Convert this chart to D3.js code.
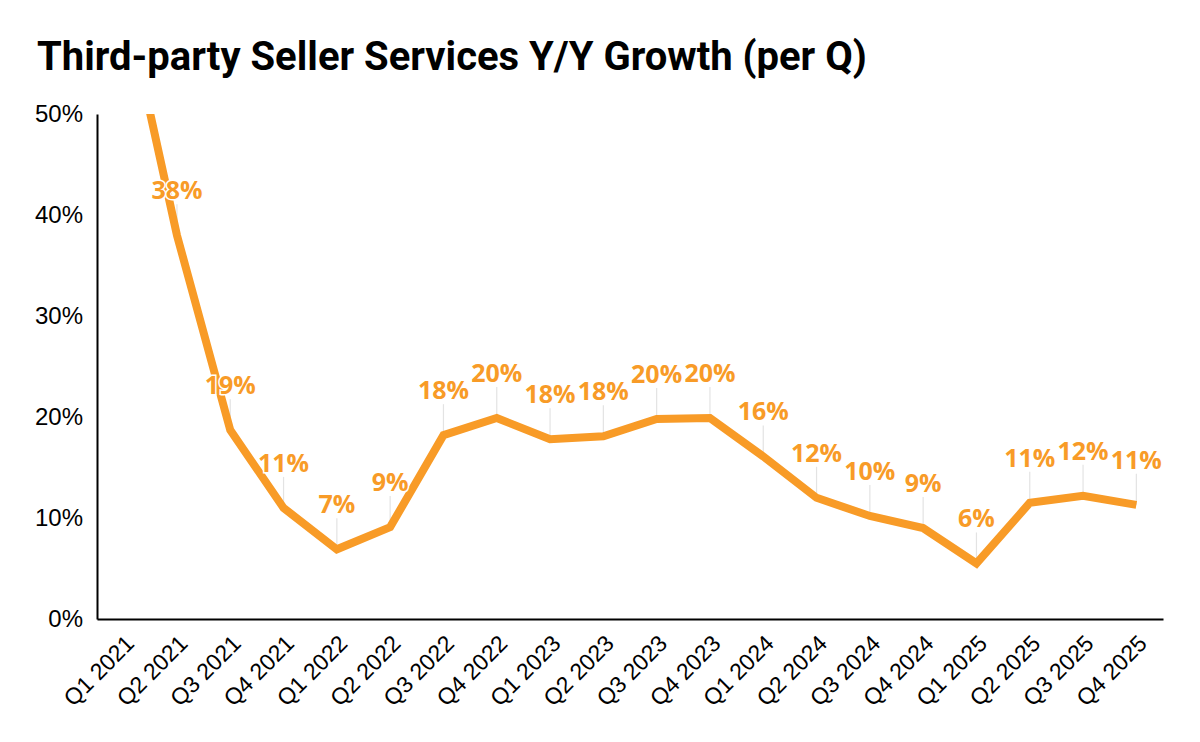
<!DOCTYPE html>
<html>
<head>
<meta charset="utf-8">
<script src="https://cdn.jsdelivr.net/npm/d3@7"></script>
<style>
  body { margin: 0; background: #fff; }
  svg { display: block; }
</style>
</head>
<body>
<svg id="chart" width="1200" height="742"></svg>
<script>
// quarters and Y/Y growth in %
var quarters = ["Q1 2021", "Q2 2021", "Q3 2021", "Q4 2021",
    "Q1 2022", "Q2 2022", "Q3 2022", "Q4 2022",
    "Q1 2023", "Q2 2023", "Q3 2023", "Q4 2023",
    "Q1 2024", "Q2 2024", "Q3 2024", "Q4 2024",
    "Q1 2025", "Q2 2025", "Q3 2025", "Q4 2025"];
var growth = [62, 38, 18.7, 11, 6.9, 9.1, 18.2, 19.9,
    17.8, 18.1, 19.8, 19.9, 16.1, 12.0, 10.2, 9.0,
    5.5, 11.5, 12.2, 11.3];
var labels = ["62%", "38%", "19%", "11%", "7%", "9%", "18%", "20%",
    "18%", "18%", "20%", "20%", "16%", "12%", "10%", "9%",
    "6%", "11%", "12%", "11%"];
var yTicks = [0, 10, 20, 30, 40, 50];

var width = 1200, height = 742;
var margin = {top: 114, right: 37, bottom: 123, left: 97};
var orange = "#F89B27";

var svg = d3.select("#chart");

svg.append("text")
    .attr("x", 37)
    .attr("y", 70)
    .attr("font-family", "Roboto, sans-serif")
    .attr("font-weight", "bold")
    .attr("font-size", 40)
    .attr("fill", "#000")
    .text("Third-party Seller Services Y/Y Growth (per Q)");

var x = d3.scaleBand()
    .domain(quarters)
    .range([margin.left, width - margin.right]);

var y = d3.scaleLinear()
    .domain([0, 50])
    .range([height - margin.bottom, margin.top]);

var data = quarters.map(function (q, i) {
    return {q: q, v: growth[i], label: labels[i]};
});

function cx(d) {
    return x(d.q) + x.bandwidth() / 2;
}

// y axis
var yAxis = svg.append("g")
    .attr("transform", "translate(" + margin.left + ",0)")
    .call(d3.axisLeft(y).tickValues(yTicks).tickSize(0).tickPadding(14)
        .tickFormat(function (d) { return d + "%"; }));
yAxis.select(".domain").attr("stroke", "#000").attr("stroke-width", 2);
yAxis.selectAll("text")
    .attr("font-family", "'Liberation Sans', Arial, sans-serif")
    .attr("font-size", 24)
    .attr("fill", "#000");

// x axis
var xAxis = svg.append("g")
    .attr("transform", "translate(0," + (height - margin.bottom) + ")")
    .call(d3.axisBottom(x).tickSize(0).tickPadding(0));
xAxis.select(".domain").attr("stroke", "#000").attr("stroke-width", 2);
xAxis.selectAll("text")
    .attr("font-family", "'Liberation Sans', Arial, sans-serif")
    .attr("font-size", 23)
    .attr("fill", "#000")
    .attr("text-anchor", "end")
    .attr("dy", 0)
    .attr("transform", "translate(12,26) rotate(-45)");

// clip the line to the plot area
svg.append("clipPath")
    .attr("id", "plotClip")
    .append("rect")
    .attr("x", margin.left)
    .attr("y", margin.top)
    .attr("width", width - margin.left - margin.right)
    .attr("height", height - margin.top - margin.bottom);

var shown = data.filter(function (d) { return d.v <= 50; });
var labelOffset = 36;

// leader lines
svg.append("g")
    .selectAll("line")
    .data(shown)
    .join("line")
    .attr("x1", cx)
    .attr("x2", cx)
    .attr("y1", function (d) { return y(d.v) - labelOffset + 5; })
    .attr("y2", function (d) { return y(d.v); })
    .attr("stroke", "#e3e3e3")
    .attr("stroke-width", 1.2);

var line = d3.line()
    .x(cx)
    .y(function (d) { return y(d.v); });

svg.append("path")
    .datum(data)
    .attr("clip-path", "url(#plotClip)")
    .attr("d", line)
    .attr("fill", "none")
    .attr("stroke", orange)
    .attr("stroke-width", 8)
    .attr("stroke-linejoin", "miter");

// value labels
svg.append("g")
    .selectAll("text")
    .data(shown)
    .join("text")
    .attr("x", cx)
    .attr("y", function (d) { return y(d.v) - labelOffset; })
    .attr("text-anchor", "middle")
    .attr("font-family", "'Open Sans', sans-serif")
    .attr("font-weight", "bold")
    .attr("font-size", 25)
    .attr("fill", orange)
    .attr("stroke", "#fff")
    .attr("stroke-width", 3)
    .attr("paint-order", "stroke")
    .text(function (d) { return d.label; });
</script>
</body>
</html>
